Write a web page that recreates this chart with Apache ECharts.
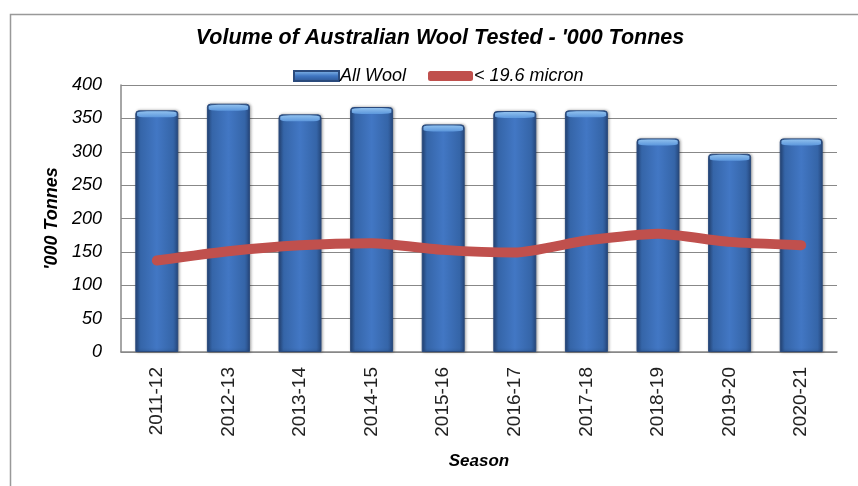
<!DOCTYPE html>
<html><head><meta charset="utf-8">
<script src="https://cdn.jsdelivr.net/npm/echarts@6/dist/echarts.min.js"></script>
<style>html,body{margin:0;padding:0;background:#fff}#c{width:858px;height:486px}</style>
</head><body><div id="c"></div>
<script>
const categories = ['2011-12','2012-13','2013-14','2014-15','2015-16','2016-17','2017-18','2018-19','2019-20','2020-21'];
const allWool = [362, 372, 356, 367, 341, 361, 362, 320, 297, 320];
const fine = [137, 151, 160, 163, 153, 149, 167, 177, 165, 160];
const yTicks = [0, 50, 100, 150, 200, 250, 300, 350, 400];

const chart = echarts.init(document.getElementById('c'), null, {renderer: 'canvas'});
const barGrad = new echarts.graphic.LinearGradient(0, 0, 1, 0, [
  {offset: 0, color: '#27497f'},
  {offset: 0.12, color: '#3565a8'},
  {offset: 0.5, color: '#4277c4'},
  {offset: 0.88, color: '#3565a8'},
  {offset: 1, color: '#27497f'}
]);
const capGrad = new echarts.graphic.LinearGradient(0, 0, 0, 1, [
  {offset: 0, color: '#8fc0ee'},
  {offset: 1, color: '#5c97dc'}
]);
const legendIconGrad = new echarts.graphic.LinearGradient(0, 0, 0, 1, [
  {offset: 0, color: '#8fc0ee'},
  {offset: 0.5, color: '#3f76c2'},
  {offset: 1, color: '#2a528f'}
]);
chart.setOption({
  animation: false,
  backgroundColor: '#fff',
  graphic: [{
    type: 'rect', left: 8, top: 12, shape: {x: 0, y: 0, width: 860, height: 490},
    style: {fill: 'none', stroke: '#999', lineWidth: 1.5}, silent: true, z: -1
  }],
  title: {
    text: "Volume of Australian Wool Tested - '000 Tonnes",
    left: 435, top: 22, textAlign: 'center',
    textStyle: {fontFamily: 'Liberation Sans', fontSize: 21.5, fontWeight: 'bold', fontStyle: 'italic', color: '#000'}
  },
  legend: {
    left: 288, top: 62, itemGap: 22,
    textStyle: {fontFamily: 'Liberation Sans', fontSize: 18, fontStyle: 'italic', color: '#000', padding: [0,0,0,-4]},
    data: [
      {name: 'All Wool', icon: 'rect', itemStyle: {color: legendIconGrad}},
      {name: '< 19.6 micron', icon: 'roundRect', itemStyle: {color: '#c0504d'}}
    ],
    itemWidth: 45, itemHeight: 10
  },
  grid: {left: 121, right: 21, top: 85, bottom: 134},
  xAxis: {
    type: 'category', data: categories,
    name: 'Season', nameLocation: 'middle', nameGap: 101,
    nameTextStyle: {fontFamily: 'Liberation Sans', fontSize: 17, fontWeight: 'bold', fontStyle: 'italic', color: '#000'},
    axisLine: {lineStyle: {color: '#888', width: 1.5}},
    axisTick: {show: false},
    axisLabel: {rotate: 90, margin: 15, fontFamily: 'Liberation Sans', fontSize: 19, color: '#222'}
  },
  yAxis: {
    type: 'value', min: 0, max: 400, interval: 50,
    name: "'000 Tonnes", nameLocation: 'middle', nameGap: 57,
    nameTextStyle: {fontFamily: 'Liberation Sans', fontSize: 18, fontWeight: 'bold', fontStyle: 'italic', color: '#000'},
    axisLine: {show: true, lineStyle: {color: '#888', width: 1.5}},
    axisTick: {show: false},
    axisLabel: {margin: 19, fontFamily: 'Liberation Sans', fontSize: 18, fontStyle: 'italic', color: '#000',
      formatter: v => yTicks.includes(v) ? String(v) : ''},
    splitLine: {lineStyle: {color: '#888', width: 1.2}}
  },
  series: [
    {
      name: 'All Wool', type: 'bar', data: allWool, barWidth: '60%',
      itemStyle: {color: barGrad, borderColor: '#2a4a7c', borderWidth: 1, borderRadius: [3,3,0,0],
        shadowColor: 'rgba(0,0,0,0.35)', shadowBlur: 3, shadowOffsetX: 1, shadowOffsetY: 0}
    },
    {
      name: 'cap', type: 'pictorialBar', data: allWool, barWidth: '60%', barGap: '-100%',
      symbol: 'roundRect', symbolPosition: 'end', symbolSize: ['92%', 6], symbolOffset: [0, 1],
      itemStyle: {color: capGrad}, z: 3, silent: true, legendHoverLink: false
    },
    {
      name: '< 19.6 micron', type: 'line', data: fine, smooth: 0.2, symbol: 'none',
      lineStyle: {color: '#c0504d', width: 10, cap: 'round', join: 'round'},
      itemStyle: {color: '#c0504d'}, z: 5
    }
  ]
});
</script></body></html>
